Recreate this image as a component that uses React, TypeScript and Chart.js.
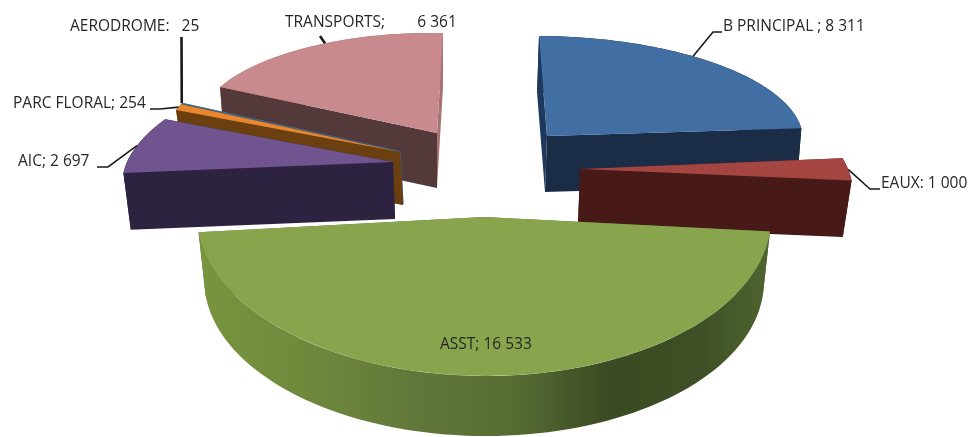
import React, { useEffect, useRef } from "react";
import { Chart, registerables } from "chart.js";

Chart.register(...registerables);

const categories = ["B PRINCIPAL", "EAUX", "ASST", "AIC", "PARC FLORAL", "AERODROME", "TRANSPORTS"];
const values = [8311, 1000, 16533, 2697, 254, 25, 6361];
const topColors = ["#416fa3", "#a54542", "#88a54d", "#6f5490", "#e8872f", "#4a7ea0", "#c88a8c"];

// Label separators follow the original chart's uneven spacing.
const separators = [" ; ", ": ", "; ", "; ", "; ", ":   ", ";        "];

const WIDTH = 973;
const HEIGHT = 437;

// Per-slice 3D projection of the flat pie: where the slice tip lands relative to the
// pie centre, the projected right/up radius vectors, extrusion and wall colours.
type Proj = {
  tip: [number, number];
  right: [number, number];
  up: [number, number];
  depth: [number, number];
  shrink: number;
  outerWall: string;
  startWall: string;
  endWall: string;
};
const projections: Proj[] = [
  { tip: [60.5, -82.5], right: [256, 1], up: [-8, -100], depth: [-2, 56], shrink: 0.99, outerWall: "#1a2c46", startWall: "#1d3a5e", endWall: "#1a2c46" },
  { tip: [93.5, -49.5], right: [268, 0], up: [-51, -124], depth: [-2, 57], shrink: 0.975, outerWall: "#471917", startWall: "#471917", endWall: "#471917" },
  { tip: [-2.5, -1.5], right: [287, 0], up: [-2, -159], depth: [0, 64], shrink: 0.975, outerWall: "gradient", startWall: "#5d7337", endWall: "#5d7337" },
  { tip: [-93.5, -56.5], right: [266, 0], up: [50, -114], depth: [2, 57], shrink: 0.98, outerWall: "#2d2340", startWall: "#2d2340", endWall: "#2d2340" },
  { tip: [-86.5, -66.5], right: [246, -8.5], up: [11, -133], depth: [3, 53], shrink: 0.98, outerWall: "#6b3f10", startWall: "#6b3f10", endWall: "#6b3f10" },
  { tip: [-86, -67.5], right: [246, -8.5], up: [11, -133], depth: [3, 53], shrink: 0.98, outerWall: "#3a5f80", startWall: "#3a5f80", endWall: "#3a5f80" },
  { tip: [-49.5, -85.5], right: [242, 4.4], up: [6, -100], depth: [0, 55], shrink: 0.98, outerWall: "#a87274", startWall: "#53393a", endWall: "#a87274" },
];

const drawOrder = [6, 0, 5, 4, 1, 3, 2];

// Where each label's text starts, the elbow / end of its leader line, and how far along
// the slice's outer edge (0..1) the leader begins.
type Lab = { x: number; y: number; elbow: [number, number] | null; end: [number, number] | null; lw: number; along: number };
const labelLayout: Lab[] = [
  { x: 723, y: 27, elbow: [713, 32], end: [722, 32], lw: 1.6, along: 0.43 },
  { x: 881, y: 184, elbow: [870, 189], end: [880, 189], lw: 1.6, along: 0.5 },
  { x: 440, y: 345, elbow: null, end: null, lw: 0, along: 0.5 },
  { x: 18, y: 162, elbow: [108, 167], end: [97, 167], lw: 1.6, along: 0.5 },
  { x: 13, y: 104, elbow: [160, 109], end: [150, 109], lw: 1.6, along: 0.5 },
  { x: 70, y: 27, elbow: [181.5, 37], end: [181.5, 37], lw: 2.6, along: 0.5 },
  { x: 285, y: 23, elbow: [320, 36], end: [320, 36], lw: 2.6, along: 0.555 },
];

const fmt = (v: number) => String(v).replace(/\B(?=(\d{3})+$)/g, " ");

const pie3d = {
  id: "pie3d",
  beforeDatasetsDraw(chart: any) {
    const ctx: CanvasRenderingContext2D = chart.ctx;
    const arcs = chart.getDatasetMeta(0).data;

    const arcX = (a: any, p: Proj) => a.x + p.tip[0];
    const arcY = (a: any, p: Proj) => a.y + p.tip[1];
    const pt = (a: any, p: Proj, theta: number, bottom: boolean): [number, number] => {
      const s = bottom ? p.shrink : 1;
      const ox = arcX(a, p) + (bottom ? p.depth[0] : 0);
      const oy = arcY(a, p) + (bottom ? p.depth[1] : 0);
      const sn = Math.sin(theta);
      const cs = Math.cos(theta);
      return [ox + s * (p.right[0] * sn + p.up[0] * cs), oy + s * (p.right[1] * sn + p.up[1] * cs)];
    };

    const poly = (pts: [number, number][], fill: string | CanvasGradient) => {
      ctx.beginPath();
      pts.forEach(([x, y], i) => (i ? ctx.lineTo(x, y) : ctx.moveTo(x, y)));
      ctx.closePath();
      ctx.fillStyle = fill;
      ctx.fill();
    };

    for (const i of drawOrder) {
      const a = arcs[i];
      const p = projections[i];
      const t0 = a.startAngle + Math.PI / 2;
      const t1 = a.endAngle + Math.PI / 2;
      const tx = arcX(a, p);
      const ty = arcY(a, p);
      const tipBottom: [number, number] = [tx + p.depth[0], ty + p.depth[1]];

      const radialWalls = () => {
        poly([[tx, ty], pt(a, p, t0, false), pt(a, p, t0, true), tipBottom], p.startWall);
        poly([[tx, ty], pt(a, p, t1, false), pt(a, p, t1, true), tipBottom], p.endWall);
      };
      const shaded = p.outerWall === "gradient";
      // The big front slice shows its curved wall in front of its radial walls;
      // on the others the radial walls are what faces the viewer.
      if (shaded) radialWalls();

      // outer curved wall
      const steps = 80;
      const top: [number, number][] = [];
      const bot: [number, number][] = [];
      for (let k = 0; k <= steps; k++) {
        const th = t0 + ((t1 - t0) * k) / steps;
        top.push(pt(a, p, th, false));
        bot.push(pt(a, p, th, true));
      }
      let fill: string | CanvasGradient = p.outerWall;
      if (shaded) {
        const g = ctx.createLinearGradient(tx - p.right[0], 0, tx + p.right[0], 0);
        g.addColorStop(0, "#78953f");
        g.addColorStop(0.18, "#708a3c");
        g.addColorStop(0.38, "#62773a");
        g.addColorStop(0.55, "#576c33");
        g.addColorStop(0.72, "#3a4a22");
        g.addColorStop(0.88, "#3f5026");
        g.addColorStop(1, "#4f6530");
        fill = g;
      }
      poly([...top, ...bot.reverse()], fill);
      if (!shaded) radialWalls();

      // top face: the library's own arc element, projected
      const R = a.outerRadius;
      ctx.save();
      ctx.translate(tx, ty);
      ctx.transform(p.right[0] / R, p.right[1] / R, -p.up[0] / R, -p.up[1] / R, 0, 0);
      ctx.translate(-a.x, -a.y);
      a.draw(ctx);
      ctx.restore();
    }

    // labels & leader lines
    ctx.save();
    ctx.textBaseline = "middle";
    ctx.textAlign = "left";
    ctx.font = '15.5px "Open Sans", sans-serif';
    ctx.strokeStyle = "#1a1a1a";
    categories.forEach((c, i) => {
      const l = labelLayout[i];
      const a = arcs[i];
      const p = projections[i];
      if (l.end && l.elbow) {
        const th = a.startAngle + (a.endAngle - a.startAngle) * l.along + Math.PI / 2;
        const start = pt(a, p, th, false);
        ctx.beginPath();
        ctx.moveTo(start[0], start[1]);
        ctx.lineTo(l.elbow[0], l.elbow[1]);
        ctx.lineTo(l.end[0], l.end[1]);
        ctx.lineWidth = l.lw;
        ctx.stroke();
      }
      ctx.fillStyle = "#262626";
      ctx.fillText(`${c}${separators[i]}${fmt(values[i])}`, l.x, l.y);
    });
    ctx.restore();
    return false;
  },
};

export default function App() {
  const ref = useRef<HTMLCanvasElement | null>(null);
  useEffect(() => {
    document.body.style.margin = "0";
    document.body.style.background = "#ffffff";
    const chart = new Chart(ref.current as HTMLCanvasElement, {
      type: "pie",
      data: {
        labels: categories,
        datasets: [{ data: values, backgroundColor: topColors, borderWidth: 0, offset: 0 }],
      },
      options: {
        responsive: false,
        animation: false,
        rotation: 0,
        layout: { padding: 0 },
        plugins: { legend: { display: false }, tooltip: { enabled: false } },
      },
      plugins: [pie3d as any],
    } as any);
    return () => chart.destroy();
  }, []);
  return <canvas ref={ref} width={WIDTH} height={HEIGHT} style={{ display: "block" }} />;
}
